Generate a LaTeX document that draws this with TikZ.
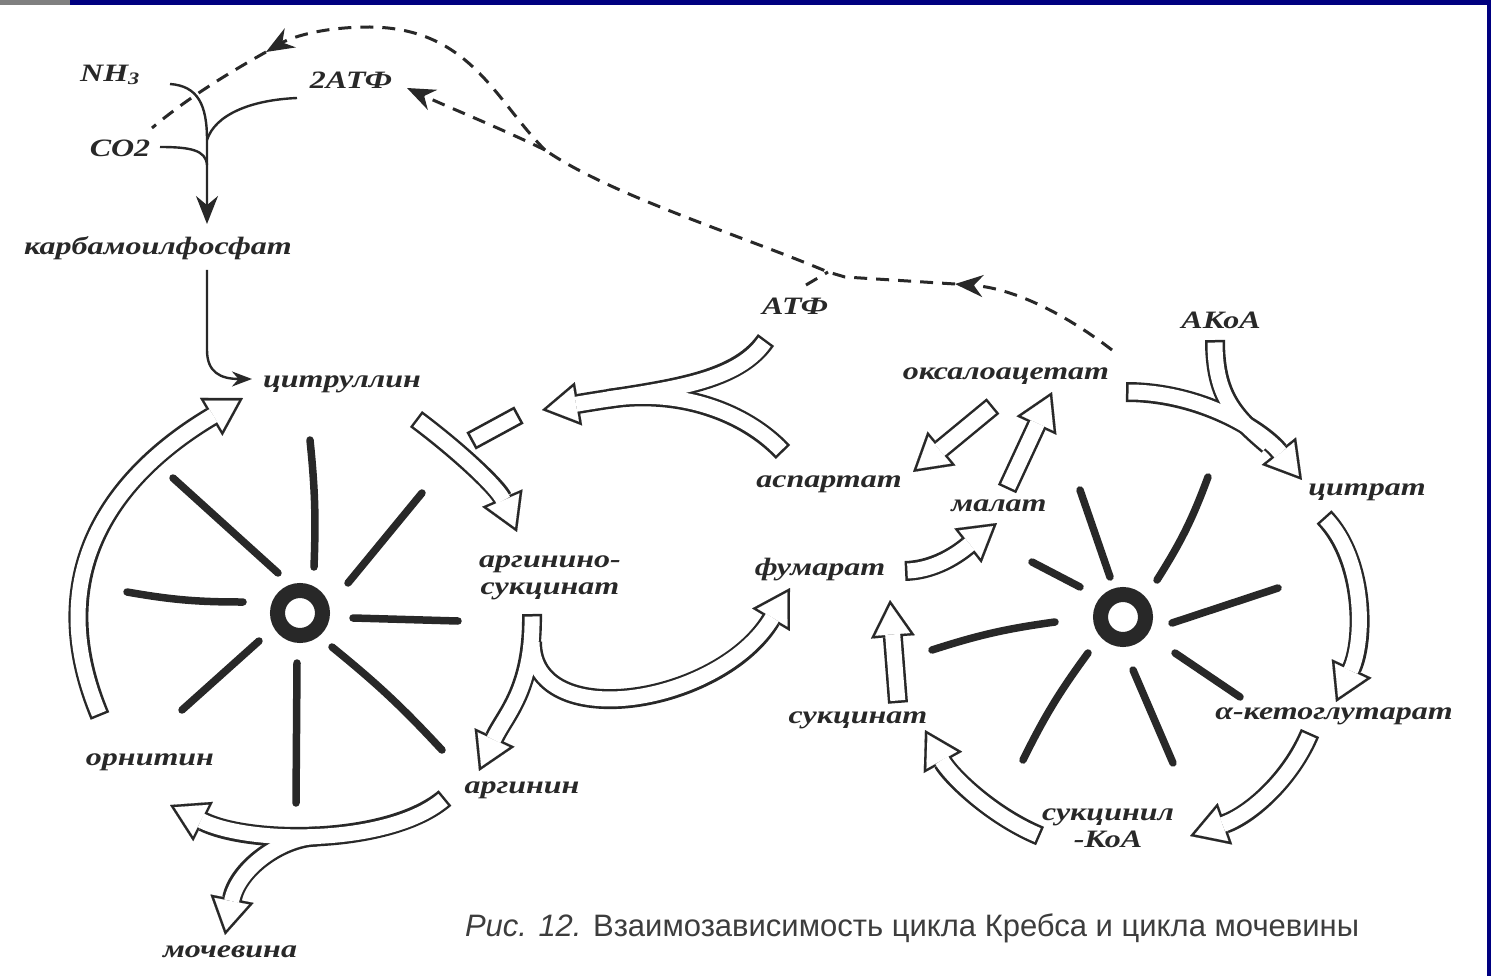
\documentclass[tikz,border=0pt]{standalone}
\usepackage{fontspec}
\setmainfont{Liberation Serif}
\newfontfamily\labfont[FakeStretch=1.28]{Liberation Serif}
\newfontfamily\capfont{Liberation Sans}
\usepackage{xcolor}
\usepackage{tikz}
\usetikzlibrary{arrows.meta}

\definecolor{framecol}{RGB}{0,0,128}
\definecolor{ink}{RGB}{40,40,40}

\tikzset{
  lab/.style={text=ink, inner sep=0pt, font=\labfont\bfseries\itshape\fontsize{25}{27}\selectfont},
  capt/.style={text=ink!90, inner sep=0pt, font=\capfont\fontsize{31}{33}\selectfont},
  spoke/.style={ink, line width=7.5pt, line cap=round},
  thinline/.style={ink, line width=2.4pt},
  dashline/.style={ink, line width=3pt, dash pattern=on 13pt off 9pt},
  bandout/.style={ink, line width=20pt},
  bandin/.style={white, line width=15pt, shorten <=2.5pt},
  branchin/.style={white, line width=15pt},
  headout/.style={-{Triangle[length=37pt,width=44pt,line width=0.1pt]}},
  headin/.style={shorten >=5pt, -{Triangle[length=29.5pt,width=35pt,line width=0.1pt]}},
  smallhead/.style={-{Stealth[length=28pt,width=22pt]}}
}

\newcommand{\flowbands}[3]{%
  \draw[#1,#2] (a1s) .. controls (35,560) and (130,465) .. (a1e);
  \draw[#1,#2] (a2s) .. controls (460,452) and (498,488) .. (a2e);
  \draw[#1,#2] (a3s) .. controls (533,690) and (505,715) .. (a3e);
  \draw[#3,#2] (a3b) .. controls (532,735) and (720,705) .. (a3f);
  \draw[#1,#2] (a4s) .. controls (390,845) and (250,845) .. (a4e);
  \draw[#3,#2] (a4b) .. controls (282,837) and (238,868) .. (a4f);
  \draw[#1,#2] (c1s) .. controls (735,385) and (660,390) .. (c1e);
  \draw[#1] (c2s) .. controls (745,412) and (680,388) .. (c2e);
  \draw[#1,#2] (b1s) .. controls (1200,392) and (1262,430) .. (b1e);
  \draw[#1] (b1b) .. controls (1215,395) and (1233,415.5) .. (b1c);
  \draw[#1,#2] (b2s) .. controls (1365,560) and (1365,640) .. (b2e);
  \draw[#1,#2] (b3s) .. controls (1290,780) and (1250,815) .. (b3e);
  \draw[#1,#2] (b4s) .. controls (990,815) and (950,775) .. (b4e);
  \draw[#1,#2] (b5s) -- (b5e);
  \draw[#1,#2] (b6s) .. controls (940,570) and (965,548) .. (b6e);
  \draw[#1,#2] (b7s) -- (b7e);
  \draw[#1,#2] (b8s) -- (b8e);
}

\begin{document}
\begin{tikzpicture}[x=1pt,y=-1pt]
  \fill[white] (0,0) rectangle (1491,976);
  \useasboundingbox (0,0) rectangle (1491,976);
  \fill[gray] (0,0) rectangle (70,5);
  \fill[framecol] (70,0) rectangle (1491,5);
  \fill[framecol] (1487,0) rectangle (1491,976);

  \node[lab] (nh3) at (110,75) {NH\textsubscript{3}};
  \node[lab] (co2) at (120,148) {CO2};
  \node[lab] (atf2) at (351,80) {2АТФ};
  \node[lab] (carb) at (158,248) {карбамоилфосфат};
  \node[lab] (citr) at (342,384) {цитруллин};
  \node[lab] (atf) at (795,306) {АТФ};
  \node[lab] (akoa) at (1221,320) {АКоА};
  \node[lab] (oxal) at (1006,376) {оксалоацетат};
  \node[lab] (asp) at (829,484) {аспартат};
  \node[lab] (mal) at (999,506) {малат};
  \node[lab] (cit) at (1367,492) {цитрат};
  \node[lab, align=center] (argsuc) at (550,578) {аргинино-\\сукцинат};
  \node[lab] (fum) at (820,570) {фумарат};
  \node[lab] (orn) at (150,762) {орнитин};
  \node[lab] (arg) at (522,790) {аргинин};
  \node[lab] (suc) at (858,720) {сукцинат};
  \node[lab] (akg) at (1334,716) {α-кетоглутарат};
  \node[lab, align=center] (sucoa) at (1108,828) {сукцинил\\-КоА};
  \node[lab] (urea) at (230,952) {мочевина};
  \node[capt] (cap) at (912,928) {\itshape Рис. 12. \upshape Взаимозависимость цикла Кребса и цикла мочевины};

  \coordinate (uc) at (300,613);
  \coordinate (kc) at (1123,617);
  \coordinate (a1s) at (100,716);
  \coordinate (a1e) at (243,398);
  \coordinate (a2s) at (416,419);
  \coordinate (a2e) at (517,532);
  \coordinate (a3s) at (532,614);
  \coordinate (a3e) at (479,771);
  \coordinate (a3b) at (532,642);
  \coordinate (a3f) at (790,588);
  \coordinate (a4s) at (445,798);
  \coordinate (a4e) at (170,805);
  \coordinate (a4b) at (317,836.5);
  \coordinate (a4f) at (225,935);
  \coordinate (c1s) at (766,340);
  \coordinate (c1e) at (542,410);
  \coordinate (c2s) at (783,452);
  \coordinate (c2e) at (608,399);
  \coordinate (b1s) at (1126,392);
  \coordinate (b1e) at (1302,480);
  \coordinate (b1b) at (1215,340);
  \coordinate (b1c) at (1268,445);
  \coordinate (b2s) at (1324,517);
  \coordinate (b2e) at (1336,702);
  \coordinate (b3s) at (1310,733);
  \coordinate (b3e) at (1190,836);
  \coordinate (b4s) at (1040,836);
  \coordinate (b4e) at (925,730);
  \coordinate (b5s) at (898,703);
  \coordinate (b5e) at (890,600);
  \coordinate (b6s) at (905,571);
  \coordinate (b6e) at (997,523);
  \coordinate (b7s) at (993,406);
  \coordinate (b7e) at (913,472);
  \coordinate (b8s) at (1007,489);
  \coordinate (b8e) at (1052,392);

  \flowbands{bandout}{headout}{bandout}
  \flowbands{bandin}{headin}{branchin}

  \node[draw=ink, line width=2.5pt, rotate=28.5, minimum width=52pt, minimum height=17pt] (blk) at (495,428) {};

  \draw[ink, line width=15pt] (uc) circle[radius=22.5pt];
  \draw[ink, line width=15pt] (kc) circle[radius=22.5pt];

  \draw[spoke] (310,440) to[bend left=4] (314,567);
  \draw[spoke] (173,478) -- (278,573);
  \draw[spoke] (422,493) -- (348,583);
  \draw[spoke] (127,592) to[bend right=5] (243,602);
  \draw[spoke] (353,618) -- (458,621);
  \draw[spoke] (182,710) -- (259,641);
  \draw[spoke] (297,663) -- (296,803);
  \draw[spoke] (332,647) to[bend left=4] (442,750);

  \draw[spoke] (1080,490) -- (1110,577);
  \draw[spoke] (1208,477) to[bend left=6] (1157,580);
  \draw[spoke] (1032,562) -- (1080,587);
  \draw[spoke] (1278,588) -- (1172,623);
  \draw[spoke] (932,650) to[bend left=5] (1055,622);
  \draw[spoke] (1175,653) -- (1240,697);
  \draw[spoke] (1023,760) to[bend left=5] (1088,653);
  \draw[spoke] (1133,670) -- (1173,763);

  \coordinate (nhs) at (170,84);
  \coordinate (cbt) at (207,224);
  \coordinate (atfs) at (297,98);
  \coordinate (cos) at (160,147);
  \coordinate (cbb) at (207,270);
  \coordinate (cit0) at (252,379);
  \draw[thinline, smallhead] (nhs) .. controls (198,86) and (207,105) .. (207,140) -- (cbt);
  \draw[thinline] (atfs) .. controls (250,100) and (215,115) .. (207,140);
  \draw[thinline] (cos) .. controls (190,147) and (206,150) .. (207,165);
  \draw[thinline, -{Stealth[length=20pt,width=15pt]}] (cbb) -- (207,350) .. controls (207,372) and (220,379) .. (cit0);

  \coordinate (dox) at (1112,350);
  \coordinate (da1) at (955,284);
  \coordinate (dk) at (828,272);
  \coordinate (dj) at (545,150);
  \coordinate (da2) at (266,52);
  \coordinate (dco) at (152,128);
  \coordinate (da3) at (407,88);
  \coordinate (datf) at (806,285);
  \draw[dashline, smallhead] (dox) .. controls (1060,310) and (1010,288) .. (da1);
  \draw[dashline] (da1) -- (845,277) -- (dk) .. controls (740,235) and (610,195) .. (dj);
  \draw[dashline, smallhead] (dj) .. controls (495,100) and (470,28) .. (370,27) .. controls (320,27) and (290,38) .. (da2);
  \draw[dashline] (da2) .. controls (225,75) and (185,100) .. (dco);
  \draw[dashline, smallhead] (dj) .. controls (500,128) and (450,108) .. (da3);
  \draw[dashline] (datf) -- (dk);
\end{tikzpicture}
\end{document}
